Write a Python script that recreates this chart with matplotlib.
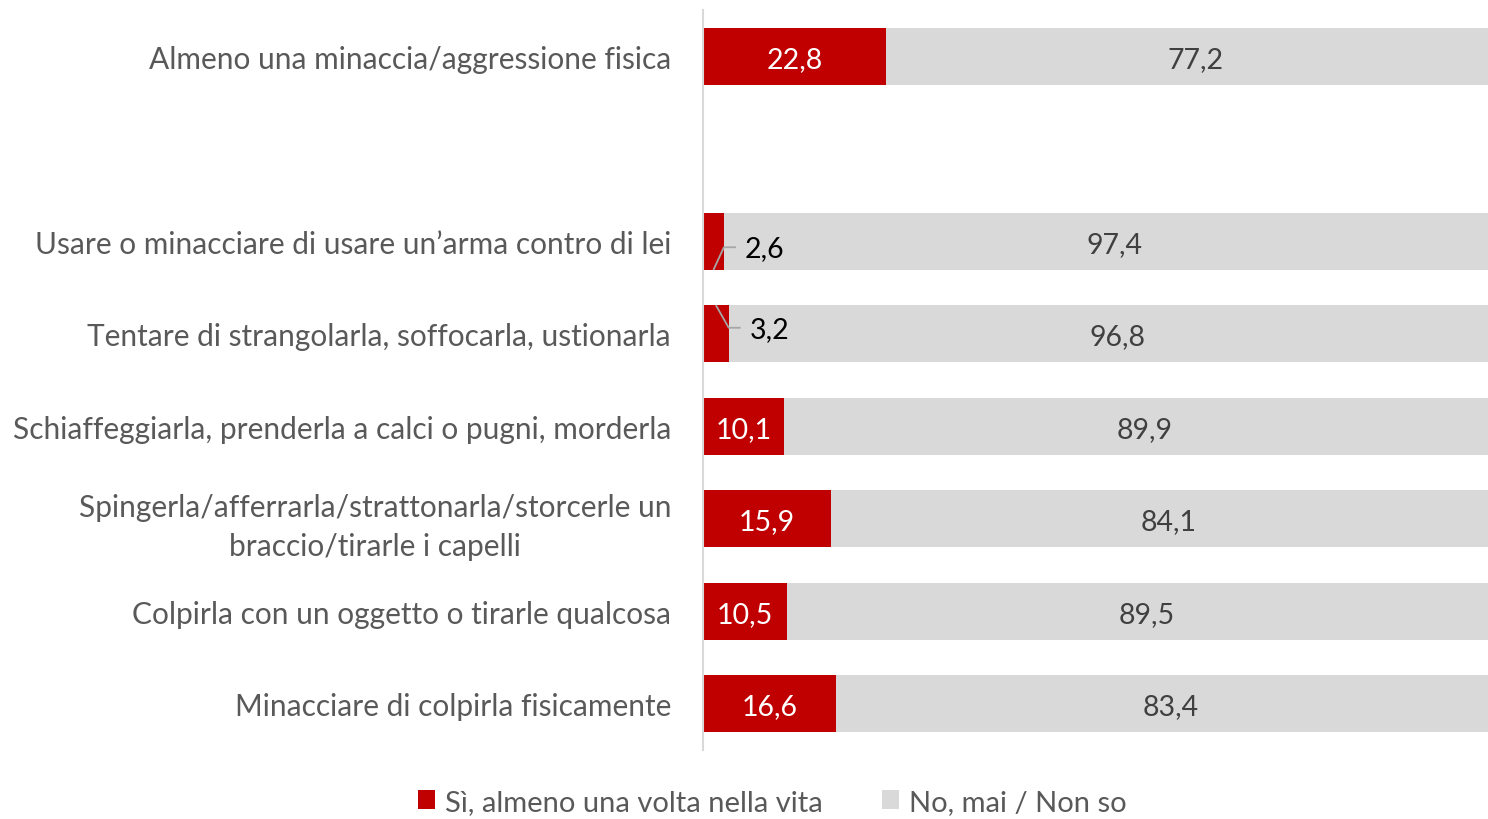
import numpy as np
import matplotlib.pyplot as plt
from matplotlib.patches import Patch

plt.rcParams['font.family'] = ['Lato', 'DejaVu Sans']

categories = [
    "Almeno una minaccia/aggressione fisica",
    "",
    "Usare o minacciare di usare un\u2019arma contro di lei",
    "Tentare di strangolarla, soffocarla, ustionarla",
    "Schiaffeggiarla, prenderla a calci o pugni, morderla",
    "Spingerla/afferrarla/strattonarla/storcerle un\nbraccio/tirarle i capelli",
    "Colpirla con un oggetto o tirarle qualcosa",
    "Minacciare di colpirla fisicamente",
]
si = [22.8, None, 2.6, 3.2, 10.1, 15.9, 10.5, 16.6]
no = [77.2, None, 97.4, 96.8, 89.9, 84.1, 89.5, 83.4]
series_names = ["S\u00ec, almeno una volta nella vita", "No, mai / Non so"]

red = "#C00000"
grey = "#D9D9D9"
label_col = "#595959"

fig = plt.figure(figsize=(14.88, 8.2), dpi=100)
ax = fig.add_axes([703 / 1488, 69 / 820, 803 / 1488, 740 / 820])

fmt = lambda v: f"{v:.1f}".replace(".", ",")

for i, (a, b) in enumerate(zip(si, no)):
    if a is None:
        continue
    ax.barh(i, a, height=0.62, color=red, edgecolor="none")
    ax.barh(i, b, left=a, height=0.62, color=grey, edgecolor="none")
    ax.text(a + b / 2, i + 0.03, fmt(b), ha="center", va="center",
            fontsize=20.5, color="#404040")
    if a >= 5:
        ax.text(a / 2, i + 0.03, fmt(a), ha="center", va="center",
                fontsize=20.5, color="white")
    else:
        # small value: label outside with a leader line
        sgn = 1 if i == 2 else -1
        yl = i + sgn * 0.065
        ax.plot([a / 2, a, a + 1.5], [i + sgn * 0.31, yl, yl],
                color="#A6A6A6", lw=1.3, solid_capstyle="butt")
        ax.text(a + 2.6, yl + 0.01, fmt(a), ha="left", va="center",
                fontsize=20.5, color="black")

ax.set_xlim(0, 100)
ax.set_ylim(len(categories) - 0.5, -0.5)
ax.set_yticks(range(len(categories)))
ax.set_yticklabels(categories, fontsize=21.5, color=label_col,
                   multialignment="center", linespacing=1.45)
ax.tick_params(axis="y", length=0, pad=23)
ax.set_xticks([])
for s in ["top", "right", "bottom"]:
    ax.spines[s].set_visible(False)
ax.spines["left"].set_color(grey)
ax.spines["left"].set_linewidth(1.5)

handles = [Patch(facecolor=red, edgecolor="none"),
           Patch(facecolor=grey, edgecolor="none")]
fig.legend(handles, series_names, loc="lower center", ncol=2,
           bbox_to_anchor=(0.519, -0.027), frameon=False, fontsize=21,
           labelcolor=label_col, handlelength=0.6, handleheight=0.6,
           handletextpad=0.35, columnspacing=2.0)

fig.savefig("out.png", dpi=100)
